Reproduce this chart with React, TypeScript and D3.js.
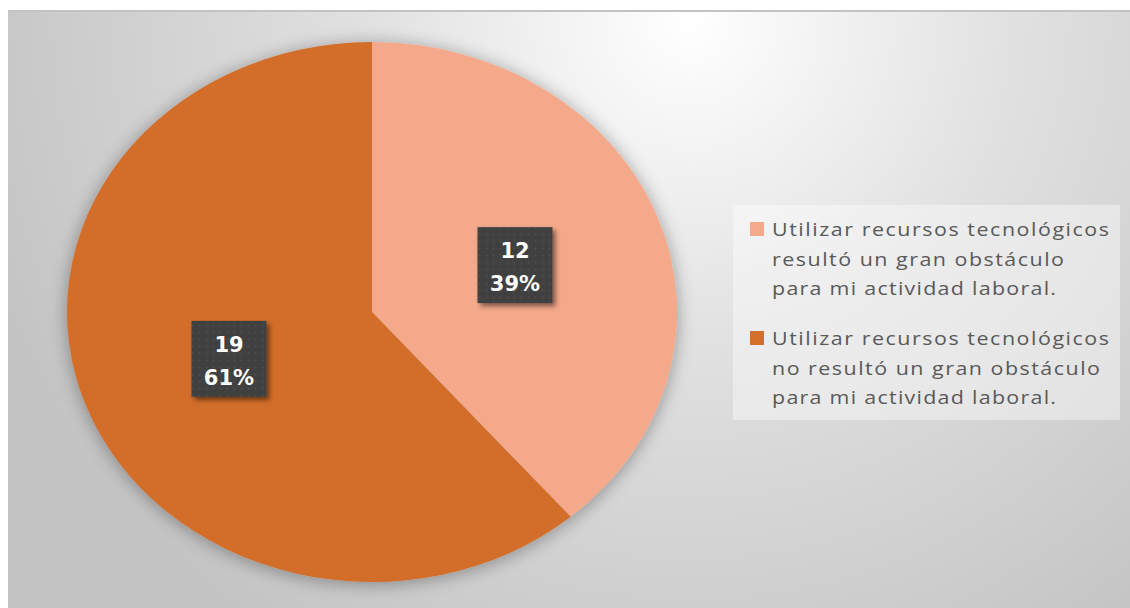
import React from "react";
import * as d3 from "d3";

const categories = [
  "Utilizar recursos tecnológicos resultó un gran obstáculo para mi actividad laboral.",
  "Utilizar recursos tecnológicos no resultó un gran obstáculo para mi actividad laboral.",
];
const legendLines = [
  ["Utilizar recursos tecnológicos", "resultó un gran obstáculo", "para mi actividad laboral."],
  ["Utilizar recursos tecnológicos", "no resultó un gran obstáculo", "para mi actividad laboral."],
];
const legendLineWidths = [
  [337, 292, 284],
  [337, 328, 284],
];
const values = [12, 19];
const colors = ["#F3A98A", "#D36E2B"];

const W = 1130;
const H = 608;
const cx = 372;
const cy = 312;
const rx = 305;
const ry = 270;
const stretch = rx / ry;

export default function App() {
  const total = d3.sum(values);
  const pie = d3.pie<number>().sort(null).value((d) => d)(values);
  const arc = d3.arc<d3.PieArcDatum<number>>().innerRadius(0).outerRadius(ry);
  const sx = rx / ry;
  const pct = d3.format(".0%");

  return (
    <svg
      width={W}
      height={H}
      style={{ position: "absolute", left: 0, top: 0 }}
      xmlns="http://www.w3.org/2000/svg"
    >
      <defs>
        <radialGradient id="bg" gradientUnits="userSpaceOnUse" cx={690} cy={20} r={740}>
          <stop offset="0" stopColor="#ffffff" />
          <stop offset="0.45" stopColor="#e0e0e0" />
          <stop offset="1" stopColor="#c4c4c4" />
        </radialGradient>
        <filter id="pieShadow" x="-20%" y="-20%" width="140%" height="140%">
          <feGaussianBlur in="SourceAlpha" stdDeviation="9" />
          <feOffset dx="0" dy="2" result="b" />
          <feComponentTransfer>
            <feFuncA type="linear" slope="0.35" />
          </feComponentTransfer>
          <feMerge>
            <feMergeNode />
            <feMergeNode in="SourceGraphic" />
          </feMerge>
        </filter>
        <filter id="boxShadow" x="-30%" y="-30%" width="160%" height="160%">
          <feGaussianBlur in="SourceAlpha" stdDeviation="2.5" />
          <feOffset dx="3" dy="3" />
          <feComponentTransfer>
            <feFuncA type="linear" slope="0.5" />
          </feComponentTransfer>
          <feMerge>
            <feMergeNode />
            <feMergeNode in="SourceGraphic" />
          </feMerge>
        </filter>
        <pattern id="dots" width="7" height="7" patternUnits="userSpaceOnUse">
          <rect width="7" height="7" fill="#404040" />
          <circle cx="3.5" cy="3.5" r="1" fill="#4d4d4d" />
        </pattern>
      </defs>

      <rect x={0} y={0} width={W} height={H} fill="#ffffff" />
      <rect x={8} y={10} width={W - 8} height={H - 10} fill="url(#bg)" />
      <rect x={8} y={10} width={W - 8} height={2} fill="#c2c2c2" />

      <g filter="url(#pieShadow)">
        <g transform={`translate(${cx},${cy}) scale(${sx},1)`}>
          {pie.map((p, i) => (
            <path key={i} d={arc(p) || ""} fill={colors[i]} />
          ))}
        </g>
      </g>

      {pie.map((p, i) => {
        const [x0, y0] = arc.centroid(p);
        const x = cx + x0 * sx;
        const y = cy + y0;
        const bw = 75;
        const bh = 76;
        return (
          <g key={i}>
            <rect
              x={x - bw / 2}
              y={y - bh / 2}
              width={bw}
              height={bh}
              fill="url(#dots)"
              filter="url(#boxShadow)"
            />
            <text
              x={x}
              y={y - 7}
              textAnchor="middle"
              fill="#ffffff"
              fontFamily="DejaVu Sans"
              fontWeight="bold"
              fontSize={21}
            >
              {values[i]}
            </text>
            <text
              x={x}
              y={y + 26}
              textAnchor="middle"
              fill="#ffffff"
              fontFamily="DejaVu Sans"
              fontWeight="bold"
              fontSize={21}
            >
              {pct(values[i] / total)}
            </text>
          </g>
        );
      })}

      <rect x={733} y={205} width={387} height={215} fill="#ffffff" fillOpacity={0.4} />
      {categories.map((c, i) => {
        const top = 229 + i * 109;
        return (
          <g key={i}>
            <title>{c}</title>
            <rect x={750} y={top - 7} width={14} height={14} fill={colors[i]} />
            {legendLines[i].map((line, j) => (
              <g key={j} transform={`translate(772,${top + 7 + j * 29.5}) scale(${stretch},1)`}>
                <text
                  x={0}
                  y={0}
                  fill="#595959"
                  fontFamily="Open Sans"
                  fontSize={19}
                  textLength={legendLineWidths[i][j] / stretch}
                  lengthAdjust="spacing"
                >
                  {line}
                </text>
              </g>
            ))}
          </g>
        );
      })}
    </svg>
  );
}
